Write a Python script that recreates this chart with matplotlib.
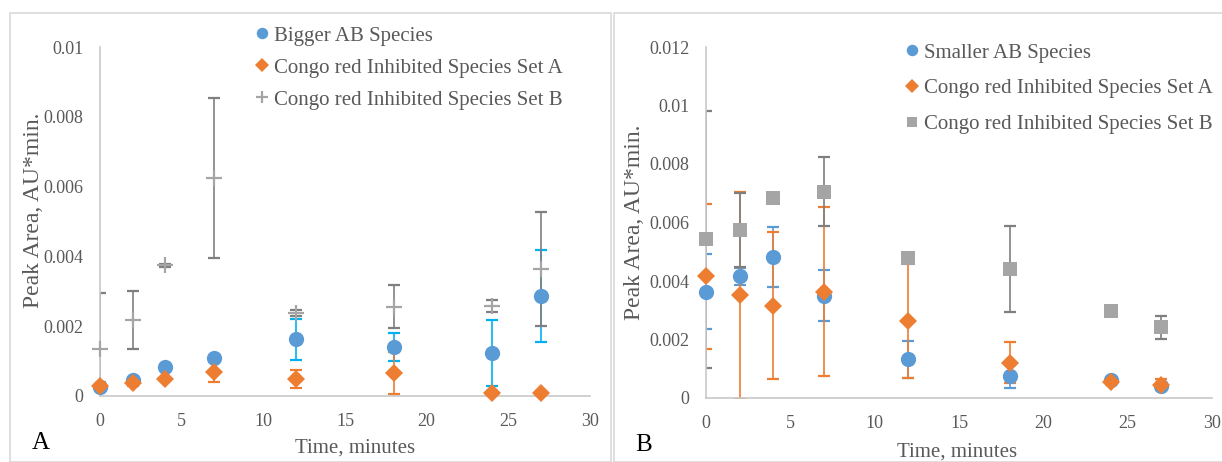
#!/usr/bin/env python3
import matplotlib
matplotlib.use("Agg")
import matplotlib.pyplot as plt
from matplotlib.patches import Rectangle
from matplotlib.ticker import FuncFormatter

# ===== Data =====
time = [0, 2, 4, 7, 12, 18, 24, 27]

# panel A
bigger_ab = [0.00025, 0.00045, 0.00083, 0.0011, 0.00162, 0.00141, 0.00124, 0.00287]
bigger_ab_err = [0.00005, 0.00005, 0.00005, 0.00005, 0.0006, 0.0004, 0.00094, 0.00131]
set_a_left = [0.0003, 0.00038, 0.00048, 0.00069, 0.00048, 0.00065, 0.0001, 0.0001]
set_a_left_err = [0.0001, 0.0001, 0.00005, 0.0003, 0.00026, 0.0006, 0.00005, 0.00005]
set_b_left = [0.00136, 0.00217, 0.00374, 0.00624, 0.00238, 0.00256, 0.00258, 0.00364]
set_b_left_err = [0.0016, 0.00083, 0.00003, 0.0023, 0.00008, 0.00062, 0.00018, 0.00162]

# panel B
smaller_ab = [0.00364, 0.00416, 0.00481, 0.0035, 0.00133, 0.00074, 0.0006, 0.0004]
smaller_ab_err = [0.00127, 0.0003, 0.00102, 0.00088, 0.00063, 0.0004, 0.00005, 0.00005]
set_a_right = [0.00416, 0.00351, 0.00316, 0.00364, 0.00264, 0.0012, 0.00053, 0.00046]
set_a_right_err = [0.00248, 0.00353, 0.0025, 0.0029, 0.00195, 0.0007, 0.00005, 0.0002]
set_b_right = [0.00542, 0.00574, 0.00683, 0.00705, 0.0048, 0.0044, 0.00298, 0.00242]
set_b_right_err = [0.0044, 0.00127, 0.00003, 0.00118, 0.00003, 0.00147, 0.00003, 0.0004]

x_ticks = [0, 5, 10, 15, 20, 25, 30]
# =========================================

BLUE = "#5B9BD5"
ORANGE = "#ED7D31"
GRAY = "#A5A5A5"
DARK = "#7F7F7F"
CYAN = "#00B0F0"
TXT = "#595959"
W, H = 1222, 462


def px(x, y):
    return x / W, 1 - y / H


def style_axes(ax, ymax, ystep):
    ax.set_xlim(0, 30)
    ax.set_ylim(0, ymax)
    ax.set_xticks(x_ticks)
    n = int(round(ymax / ystep))
    ax.set_yticks([i * ystep for i in range(n + 1)])
    ax.yaxis.set_major_formatter(FuncFormatter(lambda v, p: "%g" % round(v, 6)))
    ax.tick_params(length=0, labelsize=13, labelcolor=TXT)
    ax.tick_params(axis="y", pad=12)
    ax.tick_params(axis="x", pad=12)
    for s in ["top", "right"]:
        ax.spines[s].set_visible(False)
    for s in ["left", "bottom"]:
        ax.spines[s].set_color("#C8C8C8")
        ax.spines[s].set_linewidth(1.2)
    ax.patch.set_alpha(0)


def series(ax, y, err, ecolor, marker, color, label, ms, mew=0):
    ax.errorbar(time, y, yerr=err, fmt="none", ecolor=ecolor, elinewidth=1.2,
                capsize=4.3, capthick=1.6, zorder=2)
    ax.plot(time, y, linestyle="none", marker=marker, color=color, ms=ms,
            mew=mew, label=label, clip_on=False, zorder=3)


def main():
    plt.rcParams["font.family"] = ["Liberation Serif", "DejaVu Serif"]
    fig = plt.figure(figsize=(W / 100, H / 100), dpi=100)

    # panel frames
    fig.patches.append(Rectangle(px(10, 462), 601 / W, 449 / H, transform=fig.transFigure,
                                 fill=False, edgecolor="#D9D9D9", lw=1.2))
    fig.patches.append(Rectangle(px(614, 462), 610 / W, 449 / H, transform=fig.transFigure,
                                 fill=False, edgecolor="#D9D9D9", lw=1.2))

    # ---- Panel A ----
    axA = fig.add_axes([100 / W, 1 - 396 / H, 490 / W, 349 / H])
    style_axes(axA, 0.01, 0.002)
    series(axA, bigger_ab, bigger_ab_err, CYAN, "o", BLUE, "Bigger AB Species", 11)
    series(axA, set_a_left, set_a_left_err, ORANGE, "D", ORANGE,
           "Congo red Inhibited Species Set A", 9.5)
    series(axA, set_b_left, set_b_left_err, DARK, "+", GRAY,
           "Congo red Inhibited Species Set B", 11, mew=1.6)
    axA.text(-0.135, 0.533, "Peak Area, AU*min.", transform=axA.transAxes, rotation=90,
             ha="center", va="center", fontsize=17, color=TXT)
    axA.text(0.52, -0.149, "Time, minutes", transform=axA.transAxes,
             ha="center", va="center", fontsize=15, color=TXT)
    axA.legend(loc="upper left", bbox_to_anchor=px(256, 26), bbox_transform=fig.transFigure,
               frameon=False, fontsize=15, labelcolor=TXT, handlelength=0.6,
               handletextpad=0.25, borderpad=0, borderaxespad=0, labelspacing=0.6,
               markerscale=0.75)

    # ---- Panel B ----
    axB = fig.add_axes([706 / W, 1 - 398 / H, 506 / W, 351 / H])
    style_axes(axB, 0.012, 0.002)
    series(axB, smaller_ab, smaller_ab_err, BLUE, "o", BLUE, "Smaller AB Species", 11)
    series(axB, set_a_right, set_a_right_err, ORANGE, "D", ORANGE,
           "Congo red Inhibited Species Set A", 9.5)
    series(axB, set_b_right, set_b_right_err, DARK, "s", GRAY,
           "Congo red Inhibited Species Set B", 10.5)
    axB.text(-0.142, 0.5, "Peak Area, AU*min.", transform=axB.transAxes, rotation=90,
             ha="center", va="center", fontsize=17, color=TXT)
    axB.text(0.496, -0.154, "Time, minutes", transform=axB.transAxes,
             ha="center", va="center", fontsize=15, color=TXT)
    axB.legend(loc="upper left", bbox_to_anchor=px(906, 43), bbox_transform=fig.transFigure,
               frameon=False, fontsize=15, labelcolor=TXT, handlelength=0.6,
               handletextpad=0.25, borderpad=0, borderaxespad=0, labelspacing=0.78,
               markerscale=0.75)

    fig.text(*px(41, 443), "A", ha="center", va="center", fontsize=18, color="black")
    fig.text(*px(644, 445), "B", ha="center", va="center", fontsize=18, color="black")

    fig.savefig("out.png", dpi=100)


if __name__ == "__main__":
    main()
